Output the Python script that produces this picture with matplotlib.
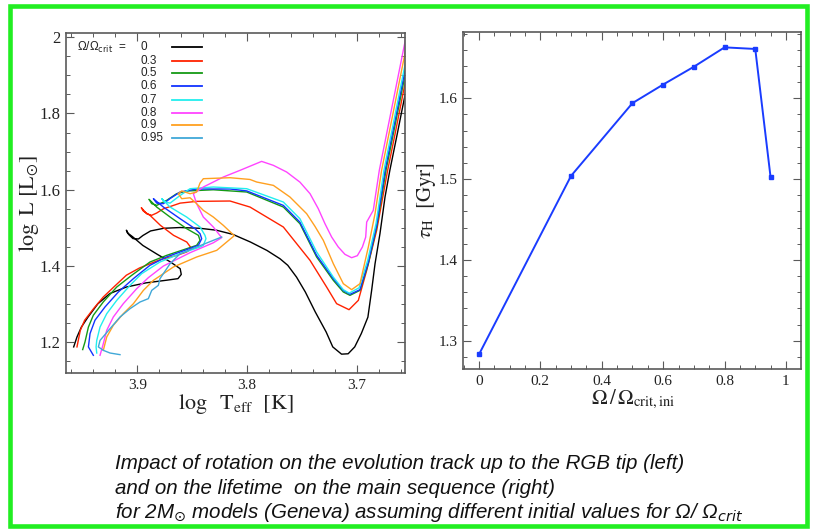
import matplotlib
matplotlib.use("Agg")
import matplotlib.pyplot as plt
from matplotlib.ticker import MultipleLocator, FuncFormatter
from matplotlib.patches import Rectangle

plt.rcParams['mathtext.fontset'] = 'stix'
plt.rcParams['font.family'] = ['Liberation Serif', 'DejaVu Serif']

# ---------------------------------------------------------------- data
omega_labels = ['0', '0.3', '0.5', '0.6', '0.7', '0.8', '0.9', '0.95']
track_colors = ['#000000', '#ff2200', '#159a15', '#1133ff', '#22eeee',
                '#ff44ff', '#ffa020', '#40a8d8']

# HR-diagram tracks (log Teff, log L) for each initial Omega/Omega_crit
logT_00 = [3.958, 3.955, 3.951, 3.945, 3.936, 3.925, 3.910, 3.892, 3.873, 3.863,
           3.860, 3.861, 3.870, 3.882, 3.895, 3.904, 3.909, 3.910, 3.908, 3.904,
           3.899, 3.895, 3.888, 3.876, 3.861, 3.843, 3.828, 3.813, 3.797, 3.782,
           3.770, 3.763, 3.755, 3.747, 3.738, 3.728, 3.722, 3.714, 3.708, 3.702,
           3.696, 3.690, 3.6866, 3.6835, 3.679, 3.6744, 3.670, 3.663, 3.659, 3.655]
logL_00 = [1.188, 1.214, 1.240, 1.266, 1.301, 1.328, 1.345, 1.356, 1.363, 1.367,
           1.378, 1.393, 1.411, 1.431, 1.454, 1.476, 1.487, 1.494, 1.483, 1.472,
           1.471, 1.480, 1.492, 1.499, 1.501, 1.499, 1.494, 1.483, 1.463, 1.441,
           1.419, 1.402, 1.371, 1.332, 1.280, 1.227, 1.188, 1.169, 1.170, 1.188,
           1.223, 1.266, 1.336, 1.406, 1.485, 1.581, 1.651, 1.750, 1.808, 1.865]

logT_03 = [3.955, 3.952, 3.948, 3.940, 3.931, 3.920, 3.910, 3.898, 3.879, 3.864,
           3.855, 3.8505, 3.855, 3.867, 3.879, 3.8885, 3.8945, 3.8964, 3.8915, 3.887,
           3.8824, 3.8763, 3.861, 3.846, 3.8156, 3.7974, 3.767, 3.7427, 3.7276, 3.7185,
           3.7072, 3.6987, 3.6911, 3.682, 3.672, 3.665, 3.655]
logL_03 = [1.188, 1.231, 1.258, 1.288, 1.319, 1.349, 1.376, 1.395, 1.417, 1.428,
           1.437, 1.4455, 1.463, 1.4805, 1.5067, 1.533, 1.544, 1.553, 1.537, 1.533,
           1.539, 1.550, 1.565, 1.5696, 1.5705, 1.5547, 1.5023, 1.4149, 1.345, 1.3014,
           1.2856, 1.3101, 1.3887, 1.4936, 1.651, 1.750, 1.896]

logT_05 = [3.9498, 3.9477, 3.9446, 3.9401, 3.931, 3.9188, 3.9052, 3.8885, 3.8733, 3.8551,
           3.846, 3.8429, 3.8444, 3.8551, 3.8702, 3.8824, 3.8894, 3.8869, 3.8824, 3.8733,
           3.8642, 3.8551, 3.8308, 3.8004, 3.767, 3.7519, 3.7367, 3.7215, 3.7124, 3.7063,
           3.6972, 3.6896, 3.682, 3.6735, 3.6666, 3.655]
logL_05 = [1.181, 1.201, 1.240, 1.271, 1.306, 1.345, 1.3756, 1.4106, 1.428, 1.4455,
           1.4543, 1.4674, 1.4805, 1.498, 1.5285, 1.5547, 1.575, 1.5635, 1.559, 1.5722,
           1.5897, 1.5967, 1.600, 1.5941, 1.5547, 1.511, 1.4237, 1.3625, 1.332, 1.3232,
           1.3363, 1.4062, 1.5023, 1.651, 1.750, 1.917]

logT_06 = [3.9401, 3.9446, 3.9431, 3.9386, 3.9294, 3.9173, 3.9036, 3.8885, 3.8733, 3.8551,
           3.8444, 3.8414, 3.8429, 3.8475, 3.8611, 3.8763, 3.8854, 3.8824, 3.8763, 3.8702,
           3.8611, 3.846, 3.8156, 3.8004, 3.767, 3.7519, 3.7367, 3.7215, 3.7124, 3.7063,
           3.6972, 3.6896, 3.682, 3.6744, 3.6675, 3.655]
logL_06 = [1.166, 1.188, 1.223, 1.258, 1.293, 1.332, 1.367, 1.402, 1.424, 1.443,
           1.4543, 1.4717, 1.4848, 1.498, 1.5242, 1.5547, 1.5766, 1.565, 1.5635, 1.577,
           1.5941, 1.602, 1.602, 1.597, 1.559, 1.515, 1.428, 1.367, 1.336, 1.326,
           1.338, 1.410, 1.507, 1.651, 1.750, 1.930]

logT_07 = [3.937, 3.9376, 3.937, 3.934, 3.9279, 3.9188, 3.9067, 3.8961, 3.8794, 3.8611,
           3.8429, 3.8399, 3.8375, 3.8384, 3.8429, 3.8551, 3.8702, 3.8778, 3.8748, 3.8702,
           3.8611, 3.852, 3.8308, 3.8004, 3.767, 3.7519, 3.7367, 3.7215, 3.7124, 3.707,
           3.698, 3.6902, 3.6826, 3.6754, 3.6685, 3.655]
logL_07 = [1.172, 1.188, 1.205, 1.240, 1.2751, 1.310, 1.3494, 1.380, 1.4106, 1.4324,
           1.4499, 1.4543, 1.4717, 1.4805, 1.5023, 1.5285, 1.5547, 1.5766, 1.568, 1.565,
           1.585, 1.6028, 1.6072, 1.6028, 1.5678, 1.524, 1.437, 1.371, 1.338, 1.329,
           1.343, 1.415, 1.511, 1.651, 1.750, 1.945]

logT_08 = [3.934, 3.931, 3.9279, 3.9219, 3.9128, 3.9006, 3.89, 3.8763, 3.852, 3.8308,
           3.8232, 3.8308, 3.8399, 3.846, 3.849, 3.8399, 3.8217, 3.8065, 3.7868, 3.7761,
           3.764, 3.7519, 3.7427, 3.7352, 3.7291, 3.723, 3.717, 3.7109, 3.7048, 3.6996,
           3.695, 3.692, 3.6911, 3.6851, 3.6796, 3.6727, 3.655]
logL_08 = [1.166, 1.1965, 1.2315, 1.2664, 1.3014, 1.3407, 1.3695, 1.400, 1.435, 1.461,
           1.4744, 1.5023, 1.5285, 1.5635, 1.5897, 1.6072, 1.6334, 1.6509, 1.6744, 1.664,
           1.6465, 1.620, 1.5897, 1.5504, 1.511, 1.476, 1.450, 1.4307, 1.4219, 1.4272,
           1.450, 1.476, 1.5154, 1.546, 1.651, 1.750, 2.005]

logT_09 = [3.931, 3.9279, 3.9219, 3.9128, 3.9036, 3.8945, 3.8854, 3.8672, 3.846, 3.8277,
           3.8117, 3.8217, 3.8308, 3.8399, 3.846, 3.852, 3.8596, 3.8627, 3.8596, 3.852,
           3.846, 3.8429, 3.8399, 3.8156, 3.7974, 3.7913, 3.7761, 3.761, 3.7458, 3.7382,
           3.7306, 3.7215, 3.7124, 3.7048, 3.6972, 3.6896, 3.6835, 3.6775, 3.6706, 3.655]
logL_09 = [1.179, 1.214, 1.2446, 1.2751, 1.3014, 1.3363, 1.3625, 1.3975, 1.4237, 1.4412,
           1.4796, 1.5067, 1.5285, 1.546, 1.5635, 1.579, 1.5766, 1.5897, 1.597, 1.5897,
           1.594, 1.6177, 1.629, 1.6316, 1.627, 1.6203, 1.6115, 1.581, 1.5373, 1.504,
           1.4674, 1.4062, 1.3538, 1.3381, 1.3538, 1.450, 1.5373, 1.651, 1.750, 1.975]

logT_095 = [3.9158, 3.9249, 3.931, 3.9355, 3.934, 3.9249, 3.9158, 3.9067, 3.8976, 3.89,
            3.8869, 3.8809, 3.8794, 3.8702, 3.8611, 3.846, 3.8308, 3.8232]
logL_095 = [1.1677, 1.172, 1.179, 1.188, 1.205, 1.2358, 1.2664, 1.2882, 1.3057, 1.3145,
            1.3363, 1.3494, 1.3669, 1.4062, 1.4324, 1.4499, 1.4674, 1.4761]

tracks_T = [logT_00, logT_03, logT_05, logT_06, logT_07, logT_08, logT_09, logT_095]
tracks_L = [logL_00, logL_03, logL_05, logL_06, logL_07, logL_08, logL_09, logL_095]

# main-sequence lifetime vs initial rotation
omega_ini = [0.0, 0.3, 0.5, 0.6, 0.7, 0.8, 0.9, 0.95]
tau_H = [1.283, 1.504, 1.594, 1.617, 1.639, 1.663, 1.661, 1.502]

caption_lines = [
    "Impact of rotation on the evolution track up to the RGB tip (left)",
    "and on the lifetime  on the main sequence (right)",
    r"for 2M$_{\odot}$ models (Geneva) assuming different initial values for Ω/ Ω$_{crit}$",
]

# ---------------------------------------------------------------- figure
W, H = 816, 529
fig = plt.figure(figsize=(W / 100, H / 100), dpi=100)
fig.patch.set_facecolor('white')

frame_col = '#5a5a5a'


def px_axes(left, top, right, bottom):
    return fig.add_axes([left / W, 1 - bottom / H, (right - left) / W, (bottom - top) / H])


def style_axes(ax, tick_size):
    for sp in ax.spines.values():
        sp.set_color(frame_col)
        sp.set_linewidth(1.2)
    ax.tick_params(which='both', direction='in', top=True, right=True,
                   color=frame_col, labelsize=tick_size, labelcolor='#222222')
    ax.tick_params(which='major', length=6, width=0.8, pad=4)
    ax.tick_params(which='minor', length=3, width=0.7)


fmt = FuncFormatter(lambda v, p: f"{v:g}")

# ---- left: HR diagram
ax1 = px_axes(66, 33, 405, 373)
for T, L, c in zip(tracks_T, tracks_L, track_colors):
    ax1.plot(T, L, color=c, lw=1.0, solid_joinstyle='round')
ax1.set_xlim(3.965, 3.6562)
ax1.set_ylim(1.1196, 2.011)
ax1.xaxis.set_major_locator(MultipleLocator(0.1))
ax1.xaxis.set_minor_locator(MultipleLocator(0.02))
ax1.yaxis.set_major_locator(MultipleLocator(0.2))
ax1.yaxis.set_minor_locator(MultipleLocator(0.05))
ax1.xaxis.set_major_formatter(fmt)
ax1.yaxis.set_major_formatter(fmt)
style_axes(ax1, 12)
ax1.tick_params(axis='x', labelsize=11)
ax1.set_xlabel(r'$\log\ \ \mathrm{T}_{\mathrm{eff}}\ \ [\mathrm{K}]$', fontsize=16, color='#222222')
ax1.set_ylabel(r'$\log\ \mathrm{L}\ [\mathrm{L}_{\odot}]$', fontsize=16, color='#222222')
ax1.xaxis.set_label_coords(0.5, -0.092)
ax1.xaxis.label.set_va('center')
ax1.yaxis.set_label_coords(-0.11, 0.5)
ax1.yaxis.label.set_va('center')

# in-panel key
ax1.text(0.032, 0.9588, r'Ω/Ω$_{\rm crit}$  =', transform=ax1.transAxes,
         fontsize=8.5, family=['Liberation Sans', 'DejaVu Sans'],
         math_fontfamily='dejavusans', va='center', ha='left', color='#222222')
key_rows = [0.9588, 0.919, 0.881, 0.843, 0.804, 0.766, 0.728, 0.690]
for lab, c, yk in zip(omega_labels, track_colors, key_rows):
    ax1.text(0.221, yk, lab, transform=ax1.transAxes, fontsize=8.5,
             family=['Liberation Sans', 'DejaVu Sans'], va='center', ha='left',
             color='#222222')
    ax1.plot([0.3127, 0.401], [yk, yk], transform=ax1.transAxes, color=c, lw=1.3)

# ---- right: lifetime
ax2 = px_axes(463, 32, 801, 369)
ax2.plot(omega_ini, tau_H, color='#1a3cff', lw=1.4, marker='s', ms=2.6,
         mec='#1a3cff', mfc='#1a3cff')
ax2.set_xlim(-0.052, 1.049)
ax2.set_ylim(1.265, 1.682)
ax2.xaxis.set_major_locator(MultipleLocator(0.2))
ax2.xaxis.set_minor_locator(MultipleLocator(0.05))
ax2.yaxis.set_major_locator(MultipleLocator(0.1))
ax2.yaxis.set_minor_locator(MultipleLocator(0.02))
ax2.xaxis.set_major_formatter(fmt)
ax2.yaxis.set_major_formatter(fmt)
style_axes(ax2, 11)
ax2.set_xlabel(r'$\Omega\,/\,\Omega_{\mathrm{crit,ini}}$', fontsize=15, color='#222222')
ax2.set_ylabel(r'$\tau_{\mathrm{H}}\ \ [\mathrm{Gyr}]$', fontsize=15, color='#222222')
ax2.xaxis.set_label_coords(0.503, -0.09)
ax2.xaxis.label.set_va('center')
ax2.yaxis.set_label_coords(-0.108, 0.5)
ax2.yaxis.label.set_va('center')

# ---- caption
cap_font = ['Liberation Sans', 'DejaVu Sans']
baselines = [469, 494, 518]
caps = []
for line, yb in zip(caption_lines, baselines):
    t = fig.text(115 / W, 1 - yb / H, line, fontsize=14, style='italic',
                 family=cap_font, math_fontfamily='dejavusans',
                 va='baseline', ha='left', color='#111111')
    caps.append(t)
fig.canvas.draw()
r = fig.canvas.get_renderer()
scale = 572 / caps[0].get_window_extent(r).width
for t in caps:
    t.set_fontsize(14 * scale)

# ---- slide border
fig.add_artist(Rectangle((9.7 / W, 3 / H), (807 - 9.7) / W, (526 - 5.8) / H,
                         transform=fig.transFigure, fill=False,
                         edgecolor='#22ee22', linewidth=3.3))

fig.savefig('out.png', dpi=100, facecolor='white')
